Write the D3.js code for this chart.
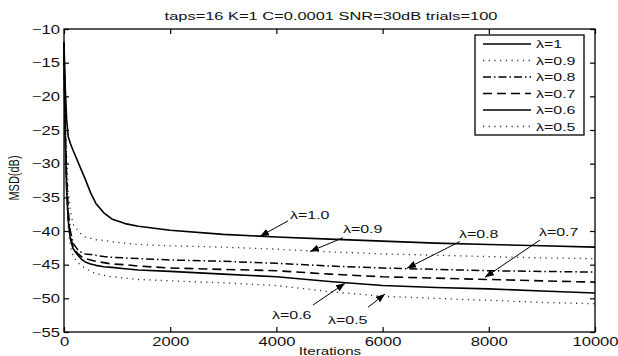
<!DOCTYPE html>
<html>
<head>
<meta charset="utf-8">
<script src="https://cdn.jsdelivr.net/npm/d3@7"></script>
<style>
  body { margin: 0; background: #fff; }
  text { font-family: "Liberation Sans", Arial, sans-serif; fill: #111; }
</style>
</head>
<body>
<svg width="618" height="356"></svg>
<script>
// iterations shared by all curves
var iterations = [0, 10, 25, 50, 80, 120, 170, 250, 330, 400, 500, 600, 750, 900, 1150, 1400, 2000, 3000, 4000, 5000, 6000, 7000, 8000, 9000, 10000];

var msd_1  = [-12, -15, -19, -23.5, -26, -27, -28, -29.5, -31, -32.3, -34.3, -35.9, -37.3, -38.2, -38.9, -39.3, -39.9, -40.5, -40.9, -41.2, -41.5, -41.8, -42.0, -42.2, -42.4];
var msd_09 = [-12, -17, -23, -29, -34, -37, -39, -39.8, -40.5, -40.9, -41.1, -41.3, -41.4, -41.6, -41.8, -42.0, -42.2, -42.4, -42.7, -43.1, -43.4, -43.6, -43.8, -44.0, -44.1];
var msd_08 = [-12, -18, -25, -32, -37, -40, -41.8, -42.7, -43.2, -43.4, -43.5, -43.6, -43.8, -43.9, -44.0, -44.1, -44.3, -44.5, -44.8, -45.2, -45.5, -45.7, -45.9, -46.0, -46.1];
var msd_07 = [-12, -18.5, -26, -33, -38, -40.8, -42.3, -43.3, -43.8, -44.1, -44.3, -44.5, -44.7, -44.9, -45.0, -45.2, -45.5, -45.7, -45.9, -46.4, -46.8, -47.0, -47.2, -47.4, -47.6];
var msd_06 = [-12.5, -19, -27, -34, -38.5, -41.2, -42.6, -43.5, -44.2, -44.6, -44.9, -45.1, -45.3, -45.4, -45.6, -45.8, -46.0, -46.4, -46.8, -47.5, -48.1, -48.4, -48.6, -48.9, -49.2];
var msd_05 = [-13, -20, -28, -35, -39.5, -42.3, -43.7, -44.6, -45.2, -45.5, -46.0, -46.3, -46.6, -46.8, -47.0, -47.2, -47.4, -47.7, -48.1, -49.0, -49.7, -50.0, -50.3, -50.6, -50.8];

var seriesNames = ["λ=1", "λ=0.9", "λ=0.8", "λ=0.7", "λ=0.6", "λ=0.5"];
var seriesValues = [msd_1, msd_09, msd_08, msd_07, msd_06, msd_05];

var xTicks = [0, 2000, 4000, 6000, 8000, 10000];
var yTicks = [-10, -15, -20, -25, -30, -35, -40, -45, -50, -55];

// arrow annotations, in data units (iteration, dB)
var annLabels   = ["λ=1.0", "λ=0.9", "λ=0.8", "λ=0.7", "λ=0.6", "λ=0.5"];
var annTextIter = [4256, 5254, 7439, 8945, 3917, 4972];
var annTextDb   = [-38.2, -40.3, -41.0, -40.67, -53.07, -53.81];
var annFromIter = [4218, 5254, 7457, 8964, 4689, 5725];
var annFromDb   = [-38.5, -41.0, -41.56, -41.34, -50.99, -51.33];
var annToIter   = [3691, 4633, 6459, 7928, 5292, 6045];
var annToDb     = [-40.8, -43.05, -45.54, -46.88, -47.77, -49.36];

var title = "taps=16 K=1 C=0.0001 SNR=30dB trials=100";

var styles = [
  {dash: null,          width: 1.6, color: "#000"},
  {dash: "1.2,4.5",     width: 1.3, color: "#333"},
  {dash: "8,3,1.5,3",   width: 1.5, color: "#000"},
  {dash: "9,5",         width: 1.6, color: "#000"},
  {dash: null,          width: 1.6, color: "#000"},
  {dash: "1.2,4.5",     width: 1.3, color: "#333"}
];

var margin = {left: 64, right: 23, top: 29, bottom: 24};
var width = 618, height = 356;
var sx = 1.33; // text in the picture is stretched sideways

var svg = d3.select("svg");

svg.append("defs").append("marker")
  .attr("id", "arr")
  .attr("markerUnits", "userSpaceOnUse")
  .attr("markerWidth", 9).attr("markerHeight", 7)
  .attr("refX", 9).attr("refY", 3.5)
  .attr("orient", "auto")
  .append("path").attr("d", "M0,0 L9,3.5 L0,7 z").attr("fill", "#000");

var xScale = d3.scaleLinear()
  .domain([0, 10000])
  .range([margin.left, width - margin.right]);

var yScale = d3.scaleLinear()
  .domain([-55, -10])
  .range([height - margin.bottom, margin.top]);

// axes with inward ticks
var gx = svg.append("g")
  .attr("transform", "translate(0," + (height - margin.bottom) + ")")
  .call(d3.axisBottom(xScale).tickValues(xTicks).tickSize(-5).tickSizeOuter(0).tickPadding(5)
    .tickFormat(d3.format("d")));
gx.selectAll("text")
  .attr("font-size", 12.5)
  .attr("transform", "scale(" + sx + ",1)");

var gy = svg.append("g")
  .attr("transform", "translate(" + margin.left + ",0)")
  .call(d3.axisLeft(yScale).tickValues(yTicks).tickSize(-5).tickSizeOuter(0).tickPadding(4)
    .tickFormat(function(d){ return d3.format("d")(d).replace("-", "\u2212"); }));
gy.selectAll("text")
  .attr("font-size", 12.5)
  .attr("x", -4 / sx)
  .attr("transform", "scale(" + sx + ",1)");

svg.append("g")
  .attr("transform", "translate(0," + margin.top + ")")
  .call(d3.axisTop(xScale).tickValues(xTicks).tickSize(-5).tickSizeOuter(0).tickFormat(""));
svg.append("g")
  .attr("transform", "translate(" + (width - margin.right) + ",0)")
  .call(d3.axisRight(yScale).tickValues(yTicks).tickSize(-5).tickSizeOuter(0).tickFormat(""));

svg.selectAll(".domain").remove();
svg.selectAll(".tick line").attr("stroke", "#000").attr("stroke-width", 1.2);

// curves
var line = d3.line()
  .x(function(d){ return xScale(d[0]); })
  .y(function(d){ return yScale(d[1]); });

seriesValues.forEach(function(vals, i){
  var pts = iterations.map(function(it, j){ return [it, vals[j]]; });
  svg.append("path")
    .attr("d", line(pts))
    .attr("fill", "none")
    .attr("stroke", styles[i].color)
    .attr("stroke-width", styles[i].width)
    .attr("stroke-dasharray", styles[i].dash)
    .attr("stroke-linejoin", "round");
});

// frame
svg.append("rect")
  .attr("x", margin.left).attr("y", margin.top)
  .attr("width", width - margin.left - margin.right)
  .attr("height", height - margin.top - margin.bottom)
  .attr("fill", "none").attr("stroke", "#000").attr("stroke-width", 1.3);

// annotations
annLabels.forEach(function(lab, i){
  svg.append("line")
    .attr("x1", xScale(annFromIter[i])).attr("y1", yScale(annFromDb[i]))
    .attr("x2", xScale(annToIter[i])).attr("y2", yScale(annToDb[i]))
    .attr("stroke", "#000").attr("stroke-width", 1)
    .attr("marker-end", "url(#arr)");
  svg.append("text")
    .attr("transform", "translate(" + xScale(annTextIter[i]) + "," + yScale(annTextDb[i]) + ") scale(1.45,1)")
    .attr("font-size", 11)
    .text(lab);
});

// legend
var lg = svg.append("g").attr("transform", "translate(475,35)");
lg.append("rect")
  .attr("width", 109).attr("height", 100)
  .attr("fill", "#fff").attr("stroke", "#000").attr("stroke-width", 1.3);
seriesNames.forEach(function(name, i){
  var yy = 9 + i * 16.5;
  lg.append("line")
    .attr("x1", 8).attr("x2", 56).attr("y1", yy).attr("y2", yy)
    .attr("stroke", styles[i].color)
    .attr("stroke-width", styles[i].width)
    .attr("stroke-dasharray", styles[i].dash);
  lg.append("text")
    .attr("transform", "translate(61," + (yy + 4) + ") scale(1.45,1)")
    .attr("font-size", 11)
    .text(name);
});

// title and axis labels
svg.append("text")
  .attr("transform", "translate(331,20) scale(1.43,1)")
  .attr("text-anchor", "middle")
  .attr("font-size", 11.5)
  .text(title);

svg.append("text")
  .attr("transform", "translate(330,355) scale(1.38,1)")
  .attr("text-anchor", "middle")
  .attr("font-size", 11)
  .text("Iterations");

svg.append("text")
  .attr("transform", "translate(19,178) scale(1.35,1) rotate(-90)")
  .attr("text-anchor", "middle")
  .attr("font-size", 11)
  .text("MSD(dB)");
</script>
</body>
</html>
